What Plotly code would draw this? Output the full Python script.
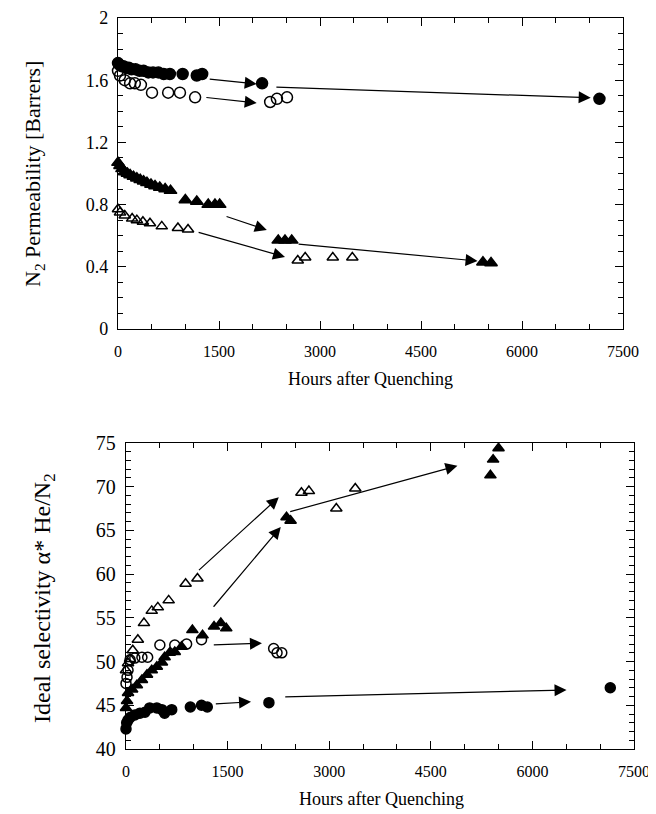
import plotly.graph_objects as go

# ---------------- data (top: N2 permeability) ----------------
top_fc_h = [0, 20, 50, 80, 120, 160, 200, 260, 320, 380, 450, 520, 600, 680, 770, 960, 1170, 1250, 2140, 7150]
top_fc_v = [1.71, 1.70, 1.69, 1.69, 1.68, 1.68, 1.67, 1.67, 1.66, 1.66, 1.65, 1.65, 1.65, 1.64, 1.64, 1.64, 1.63, 1.64, 1.58, 1.48]

top_oc_h = [0, 30, 100, 180, 250, 340, 505, 745, 920, 1145, 2260, 2360, 2510]
top_oc_v = [1.66, 1.63, 1.60, 1.58, 1.58, 1.57, 1.52, 1.52, 1.52, 1.49, 1.46, 1.48, 1.49]

top_ft_h = [0, 30, 60, 100, 140, 180, 230, 280, 330, 380, 430, 490, 550, 620, 700, 780, 1000, 1170, 1340, 1440, 1510, 2380, 2480, 2580, 5420, 5540]
top_ft_v = [1.07, 1.05, 1.03, 1.01, 1.00, 0.99, 0.98, 0.97, 0.96, 0.95, 0.94, 0.93, 0.92, 0.91, 0.90, 0.89, 0.83, 0.82, 0.80, 0.80, 0.80, 0.57, 0.57, 0.57, 0.43, 0.425]

top_ot_h = [0, 30, 100, 210, 280, 370, 475, 650, 890, 1040, 2670, 2780, 3190, 3480]
top_ot_v = [0.77, 0.75, 0.73, 0.71, 0.70, 0.69, 0.68, 0.66, 0.65, 0.64, 0.44, 0.46, 0.46, 0.46]

# arrows (tail hours, tail value, head hours, head value)
top_arrows = [
    (1340, 1.608, 2060, 1.576),
    (2330, 1.556, 7020, 1.487),
    (1290, 1.490, 2060, 1.453),
    (1590, 0.727, 2210, 0.637),
    (2660, 0.547, 5340, 0.437),
    (1175, 0.624, 2480, 0.463),
]

# ---------------- data (bottom: ideal selectivity) ----------------
bot_ot_h = [0, 30, 60, 100, 175, 265, 380, 470, 630, 880, 1055, 2590, 2700, 3105, 3385]
bot_ot_v = [49.0, 49.8, 50.3, 51.3, 52.5, 54.4, 55.8, 56.2, 57.0, 58.9, 59.5, 69.3, 69.5, 67.5, 69.8]

bot_oc_h = [0, 15, 30, 60, 130, 235, 320, 500, 720, 895, 1115, 2180, 2230, 2300]
bot_oc_v = [47.5, 48.2, 49.0, 50.2, 50.4, 50.5, 50.5, 51.9, 51.9, 52.0, 52.5, 51.5, 51.0, 51.0]

bot_ft_h = [0, 15, 30, 90, 160, 235, 310, 380, 455, 530, 570, 645, 720, 820, 980, 1130, 1300, 1400, 1480, 2370, 2430, 5380, 5420, 5500]
bot_ft_v = [44.7, 45.5, 46.4, 46.8, 47.3, 47.9, 48.5, 49.0, 49.4, 49.9, 50.5, 51.0, 51.1, 51.7, 53.6, 53.0, 54.0, 54.4, 53.8, 66.5, 66.1, 71.3, 73.1, 74.4]

bot_fc_h = [0, 10, 30, 60, 130, 205, 280, 350, 455, 530, 570, 675, 950, 1115, 1200, 2110, 7150]
bot_fc_v = [42.3, 43.0, 43.3, 43.6, 43.9, 44.1, 44.2, 44.7, 44.7, 44.5, 44.1, 44.5, 44.8, 45.0, 44.8, 45.3, 47.0]

bot_arrows = [
    (1055, 60.3, 2256, 68.8),
    (1274, 56.1, 2285, 65.4),
    (2402, 67.1, 4893, 72.4),
    (1274, 51.9, 2007, 52.1),
    (1304, 45.15, 1846, 45.4),
    (2329, 45.95, 6504, 46.75),
]

FONT = "Liberation Serif"
OFF = 8                      # browser body margin
W, H = 656 - OFF, 814 - OFF  # figure size inside the window


def px(x):
    return (x - OFF) / W


def py(y):
    return 1 - (y - OFF) / H


fig = go.Figure()


def add(xs, ys, sym, size, xa, ya):
    fig.add_trace(go.Scatter(
        x=xs, y=ys, mode="markers", xaxis=xa, yaxis=ya, cliponaxis=False,
        marker=dict(symbol=sym, size=size, color="black",
                    line=dict(color="black", width=1.5)),
        showlegend=False))


add(top_fc_h, top_fc_v, "circle", 11, "x", "y")
add(top_oc_h, top_oc_v, "circle-open", 11, "x", "y")
add(top_ft_h, top_ft_v, "triangle-up", 11, "x", "y")
add(top_ot_h, top_ot_v, "triangle-up-open", 10, "x", "y")

add(bot_ot_h, bot_ot_v, "triangle-up-open", 10, "x2", "y2")
add(bot_oc_h, bot_oc_v, "circle-open", 10, "x2", "y2")
add(bot_ft_h, bot_ft_v, "triangle-up", 10, "x2", "y2")
add(bot_fc_h, bot_fc_v, "circle", 10, "x2", "y2")

annotations = []
for (tx, ty, hx, hy) in top_arrows:
    annotations.append(dict(x=hx, y=hy, ax=tx, ay=ty, xref="x", yref="y",
                            axref="x", ayref="y", text="", showarrow=True,
                            arrowhead=2, arrowsize=2.0, arrowwidth=1.2,
                            arrowcolor="black"))
for (tx, ty, hx, hy) in bot_arrows:
    annotations.append(dict(x=hx, y=hy, ax=tx, ay=ty, xref="x2", yref="y2",
                            axref="x2", ayref="y2", text="", showarrow=True,
                            arrowhead=2, arrowsize=2.0, arrowwidth=1.2,
                            arrowcolor="black"))

annotations += [
    dict(text="N<sub>2</sub> Permeability [Barrers]", textangle=-90,
         x=px(34), y=py(174), xref="paper", yref="paper",
         showarrow=False, font=dict(family=FONT, size=22, color="black"),
         xanchor="center", yanchor="middle"),
    dict(text="Hours after Quenching", x=px(370), y=py(379),
         xref="paper", yref="paper", showarrow=False,
         font=dict(family=FONT, size=18, color="black"),
         xanchor="center", yanchor="middle"),
    dict(text="Ideal selectivity α* He/N<sub>2</sub>", textangle=-90,
         x=px(44), y=py(598), xref="paper", yref="paper",
         showarrow=False, font=dict(family=FONT, size=24, color="black"),
         xanchor="center", yanchor="middle"),
    dict(text="Hours after Quenching", x=px(381), y=py(799),
         xref="paper", yref="paper", showarrow=False,
         font=dict(family=FONT, size=18, color="black"),
         xanchor="center", yanchor="middle"),
]


def axis(fs, **kw):
    base = dict(showline=True, linecolor="black", linewidth=1.3,
                mirror="allticks", ticks="inside", ticklen=8, tickwidth=1.3,
                tickcolor="black", showgrid=False, zeroline=False,
                tickfont=dict(family=FONT, size=fs, color="black"),
                automargin=False)
    base.update(kw)
    return base


fig.update_layout(
    width=W, height=H, margin=dict(l=0, r=0, t=0, b=0),
    paper_bgcolor="white", plot_bgcolor="white",
    xaxis=axis(16, domain=[px(118), px(623)], range=[0, 7500], anchor="y",
               tickvals=[0, 1500, 3000, 4500, 6000, 7500],
               ticklabelstandoff=8,
               minor=dict(ticks="inside", ticklen=5, tickwidth=1, dtick=500,
                          tickcolor="black", showgrid=False)),
    yaxis=axis(18, domain=[py(329), py(18)], range=[0, 2], anchor="x",
               tickvals=[0, 0.4, 0.8, 1.2, 1.6, 2],
               ticktext=["0", "0.4", "0.8", "1.2", "1.6", "2"],
               ticklabelstandoff=5,
               minor=dict(ticks="inside", ticklen=5, tickwidth=1, dtick=0.1,
                          tickcolor="black", showgrid=False)),
    xaxis2=axis(16, domain=[px(126), px(634)], range=[0, 7500], anchor="y2",
                tickvals=[0, 1500, 3000, 4500, 6000, 7500],
                ticklabelstandoff=8,
                minor=dict(ticks="inside", ticklen=5, tickwidth=1, dtick=500,
                           tickcolor="black", showgrid=False)),
    yaxis2=axis(20, domain=[py(749), py(443)], range=[40, 75], anchor="x2",
                tickvals=[40, 45, 50, 55, 60, 65, 70, 75],
                ticklabelstandoff=5,
                minor=dict(ticks="inside", ticklen=5, tickwidth=1, dtick=1,
                           tickcolor="black", showgrid=False)),
    annotations=annotations,
)

fig.write_html("out.html")
